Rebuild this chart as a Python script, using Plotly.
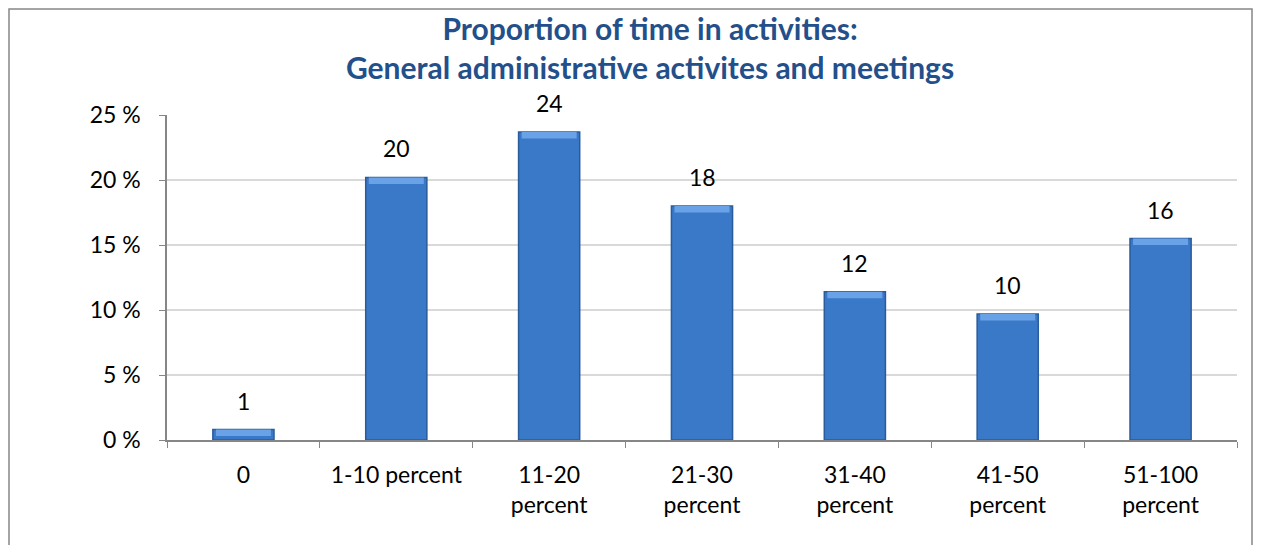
import plotly.graph_objects as go

categories = ["0", "1-10 percent", "11-20 percent", "21-30 percent",
              "31-40 percent", "41-50 percent", "51-100 percent"]
tick_labels = ["0", "1-10 percent", "11-20<br>percent", "21-30<br>percent",
               "31-40<br>percent", "41-50<br>percent", "51-100<br>percent"]
shares = [0.8, 20.2, 23.7, 18.0, 11.4, 9.7, 15.5]
bar_labels = ["1", "20", "24", "18", "12", "10", "16"]
y_ticks = [0, 5, 10, 15, 20, 25]
title = "Proportion of time in activities:<br>General administrative activites and meetings"

FONT = "Lato, Calibri, Carlito, sans-serif"
AXIS_GRAY = "#868686"

# the page body adds an 8px margin, so the figure is a bit smaller than the window
W, H = 1247, 537
L, R, T, B = 159, 18, 107, 105
PW, PH = W - L - R, H - T - B
OFF = 8


def px_x(p):  # page pixel -> paper x
    return (p - OFF - L) / PW


def px_y(p):  # page pixel -> paper y
    return (OFF + T + PH - p) / PH


fig = go.Figure()

# main bar body
fig.add_trace(go.Bar(
    x=categories, y=shares,
    marker=dict(color="#3A78C8", line=dict(color="#2A5B9C", width=1.5)),
    width=0.4, hoverinfo="x+y", showlegend=False,
))
# lighter bevel along the top of each bar
fig.add_trace(go.Bar(
    x=categories, y=[min(0.5, v) for v in shares],
    base=[v - min(0.5, v) for v in shares],
    marker=dict(color="#6AA2E8", line=dict(width=0)),
    width=0.36, hoverinfo="skip", showlegend=False,
))

for c, v, t in zip(categories, shares, bar_labels):
    fig.add_annotation(x=c, y=v, text=t, showarrow=False, yanchor="bottom",
                       yshift=13, font=dict(family=FONT, size=23, color="black"))

# two-line chart title
fig.add_annotation(
    xref="paper", yref="paper", x=px_x(650), y=px_y(8),
    xanchor="center", yanchor="top", text=title, showarrow=False,
    font=dict(family=FONT, size=30, color="#23508A", weight="bold"),
)

fig.update_layout(
    barmode="overlay",
    width=W, height=H,
    paper_bgcolor="white", plot_bgcolor="white",
    margin=dict(l=L, r=R, t=T, b=B),
    font=dict(family=FONT, size=23, color="black"),
    xaxis=dict(
        type="category", tickvals=categories, ticktext=tick_labels,
        showline=True, linecolor=AXIS_GRAY, linewidth=1.5,
        ticks="outside", tickson="boundaries", ticklen=6, tickcolor=AXIS_GRAY,
        ticklabelstandoff=14,
        tickfont=dict(family=FONT, size=23, color="black"),
        showgrid=False,
    ),
    yaxis=dict(
        range=[0, 25], tickvals=y_ticks, ticktext=[f"{t} %" for t in y_ticks],
        showline=True, linecolor=AXIS_GRAY, linewidth=1.5,
        ticks="outside", ticklen=6, tickcolor=AXIS_GRAY,
        ticklabelstandoff=14,
        showgrid=True, gridcolor="#D9D9D9", gridwidth=1.5, zeroline=False,
        tickfont=dict(family=FONT, size=23, color="black"),
    ),
    shapes=[dict(type="rect", xref="paper", yref="paper",
                 x0=px_x(9), x1=px_x(1252), y0=px_y(570), y1=px_y(9),
                 line=dict(color=AXIS_GRAY, width=1.5), layer="below")],
)

fig.write_html("out.html")
